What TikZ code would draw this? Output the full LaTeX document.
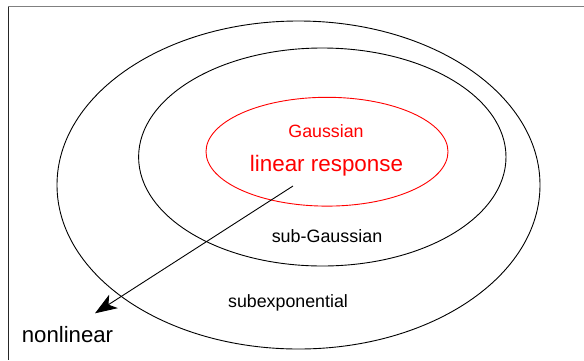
\documentclass[tikz,border=0pt]{standalone}
\usepackage{fontspec}
\setmainfont{Liberation Sans}
\usetikzlibrary{arrows.meta}
\begin{document}
\begin{tikzpicture}[x=1pt,y=-1pt,
  ring/.style={draw=black,line width=0.9pt},
  lbl/.style={anchor=base,inner sep=0pt}]
\useasboundingbox (0,0) rectangle (584,360);
\draw[gray,line width=1.6pt] (8,6.5) -- (584,6.5);
\draw[black!85,line width=0.9pt] (8.5,6.5) -- (8.5,360);
\draw[ring] (298.5,185) ellipse [x radius=241.5,y radius=164];
\draw[ring] (322.3,157) ellipse [x radius=183.7,y radius=109];
\draw[red,line width=0.9pt] (327,151.7) ellipse [x radius=121,y radius=54.4];
\node[lbl,red,font=\fontsize{17.8}{20}\selectfont] (g) at (326,137.3) {Gaussian};
\node[lbl,red,font=\fontsize{22.4}{26}\selectfont] (lr) at (326.5,171.7) {linear response};
\node[lbl,font=\fontsize{17.9}{20}\selectfont] (sg) at (327,242.7) {sub-Gaussian};
\node[lbl,font=\fontsize{17.8}{20}\selectfont] (se) at (288,307) {subexponential};
\node[lbl,font=\fontsize{22.2}{26}\selectfont] (nl) at (67.5,342.3) {nonlinear};
\coordinate (s) at (293,186);
\coordinate (t) at (95,313.3);
\draw[line width=0.9pt,-{Stealth[length=22pt,width=16pt,inset=6pt]}] (s) -- (t);
\end{tikzpicture}
\end{document}
